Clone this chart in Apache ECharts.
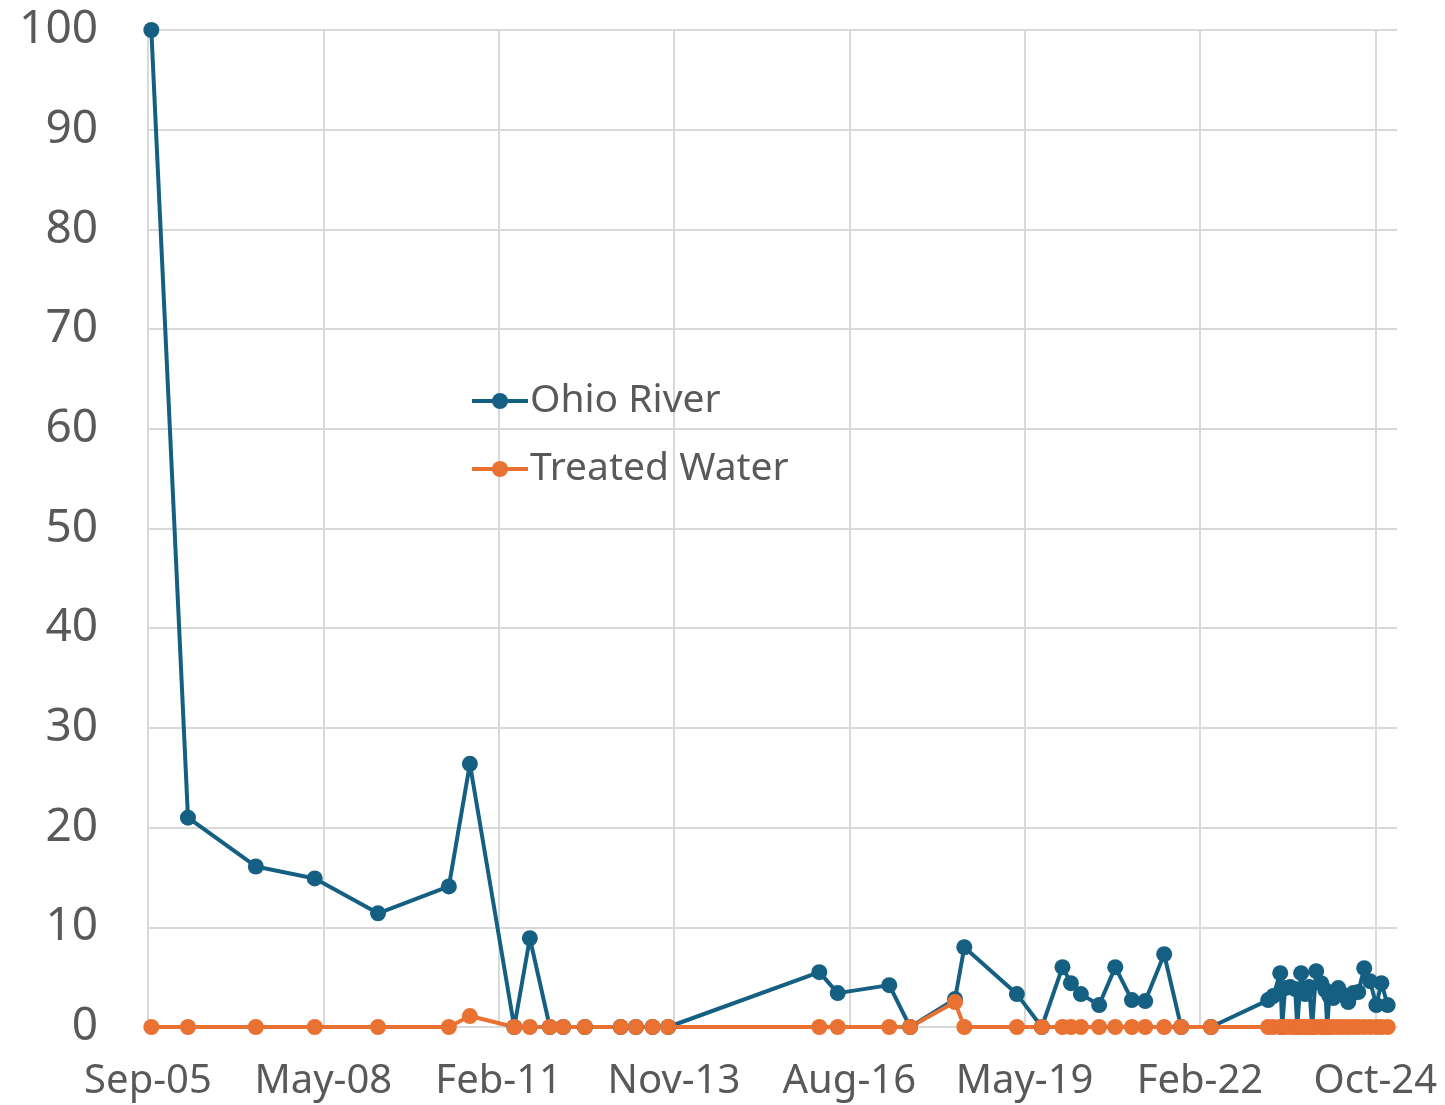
<!DOCTYPE html>
<html>
<head>
<meta charset="utf-8">
<script src="https://cdn.jsdelivr.net/npm/echarts@6/dist/echarts.min.js"></script>
<style>
html,body{margin:0;padding:0;background:#fff;}
#chart{width:1445px;height:1105px;}
</style>
</head>
<body>
<div id="chart"></div>
<script>
// Sample dates
const sampleDates = [
  '2005-09-20','2006-04-17','2007-05-09','2008-04-09','2009-04-05','2010-05-14','2010-09-11',
  '2011-05-22','2011-08-19','2011-12-11','2012-02-25','2012-06-28','2013-01-18','2013-04-15',
  '2013-07-19','2013-10-16','2016-02-25','2016-06-09','2017-03-30','2017-07-27','2018-04-09',
  '2018-06-01','2019-03-28','2019-08-17','2019-12-13','2020-01-30','2020-03-27','2020-07-09',
  '2020-10-09','2021-01-12','2021-03-29','2021-07-15','2021-10-20','2022-04-08',
  '2023-02-28','2023-03-29','2023-05-08','2023-05-19','2023-06-05','2023-07-04','2023-08-01',
  '2023-08-13','2023-09-04','2023-09-27','2023-10-20','2023-11-06','2023-11-29','2023-12-28',
  '2024-01-20','2024-01-31','2024-02-12','2024-03-05','2024-04-03','2024-05-01','2024-05-30',
  '2024-06-28','2024-07-26','2024-08-29','2024-10-01','2024-11-06','2024-12-05','2025-01-10'
];
const ohioRiver = [
  100, 21.0, 16.1, 14.9, 11.4, 14.1, 26.4,
  0, 8.9, 0, 0, 0, 0, 0,
  0, 0, 5.5, 3.4, 4.2, 0, 2.8,
  8.0, 3.3, 0, 6.0, 4.4, 3.3, 2.2,
  6.0, 2.7, 2.6, 7.3, 0, 0,
  2.7, 3.1, 5.4, 0, 3.9, 4.0, 3.8,
  0, 5.4, 3.3, 4.0, 0, 5.6, 4.4,
  3.7, 0, 3.1, 2.9, 3.9, 3.2, 2.5,
  3.4, 3.5, 5.9, 4.6, 2.2, 4.4, 2.2
];
const treatedWater = [
  0, 0, 0, 0, 0, 0, 1.1,
  0, 0, 0, 0, 0, 0, 0,
  0, 0, 0, 0, 0, 0, 2.5,
  0, 0, 0, 0, 0, 0, 0,
  0, 0, 0, 0, 0, 0,
  0, 0, 0, 0, 0, 0, 0,
  0, 0, 0, 0, 0, 0, 0,
  0, 0, 0, 0, 0, 0, 0,
  0, 0, 0, 0, 0, 0, 0
];
const seriesNames = ['Ohio River', 'Treated Water'];
const seriesColors = ['#156082', '#E97132'];
const axisStartDate = '2005-09-01';
const axisEndDays = 7124;
const tickStepDays = 1000;
const yTicks = {min: 0, max: 100, step: 10};
const monthNames = ['Jan','Feb','Mar','Apr','May','Jun','Jul','Aug','Sep','Oct','Nov','Dec'];

function utc(s){ const p = s.split('-').map(Number); return Date.UTC(p[0], p[1]-1, p[2]); }
const base = utc(axisStartDate);
function dayOff(s){ return Math.round((utc(s) - base) / 86400000); }
function fmtDay(v){
  const d = new Date(base + v * 86400000);
  return monthNames[d.getUTCMonth()] + '-' + String(d.getUTCFullYear() % 100).padStart(2, '0');
}

const xs = sampleDates.map(dayOff);
const ohioData = xs.map((x, i) => [x, ohioRiver[i]]);
const treatedData = xs.map((x, i) => [x, treatedWater[i]]);

const FONT = 'Noto Sans';
const chart = echarts.init(document.getElementById('chart'), null, {renderer: 'canvas'});
chart.setOption({
  animation: false,
  backgroundColor: '#ffffff',
  grid: {left: 148, right: 48, top: 30, bottom: 78, containLabel: false},
  legend: {
    orient: 'vertical',
    left: 470, top: 380, padding: 0,
    itemWidth: 56, itemHeight: 20, itemGap: 26,
    lineStyle: {width: 4},
    textStyle: {color: '#595959', fontSize: 39, fontFamily: FONT, lineHeight: 42, padding: [0, 0, 0, -3]},
    data: seriesNames
  },
  xAxis: {
    type: 'value', min: 0, max: axisEndDays, interval: tickStepDays,
    axisLine: {show: true, lineStyle: {color: '#d9d9d9', width: 2}},
    axisTick: {show: false},
    axisLabel: {
      color: '#595959', fontSize: 40, fontFamily: FONT, margin: 35,
      showMaxLabel: false, formatter: fmtDay
    },
    splitLine: {show: true, showMaxLine: false, lineStyle: {color: '#d9d9d9', width: 2}}
  },
  yAxis: {
    type: 'value', min: yTicks.min, max: yTicks.max, interval: yTicks.step,
    axisLine: {show: false}, axisTick: {show: false},
    axisLabel: {color: '#595959', fontSize: 46, fontFamily: FONT, margin: 50},
    splitLine: {show: true, lineStyle: {color: '#d9d9d9', width: 2}}
  },
  series: [
    {
      name: seriesNames[0], type: 'line', data: ohioData,
      symbol: 'circle', symbolSize: 16, showAllSymbol: true,
      itemStyle: {color: seriesColors[0]},
      lineStyle: {color: seriesColors[0], width: 4}
    },
    {
      name: seriesNames[1], type: 'line', data: treatedData,
      symbol: 'circle', symbolSize: 16, showAllSymbol: true,
      itemStyle: {color: seriesColors[1]},
      lineStyle: {color: seriesColors[1], width: 4}
    }
  ]
});
</script>
</body>
</html>
